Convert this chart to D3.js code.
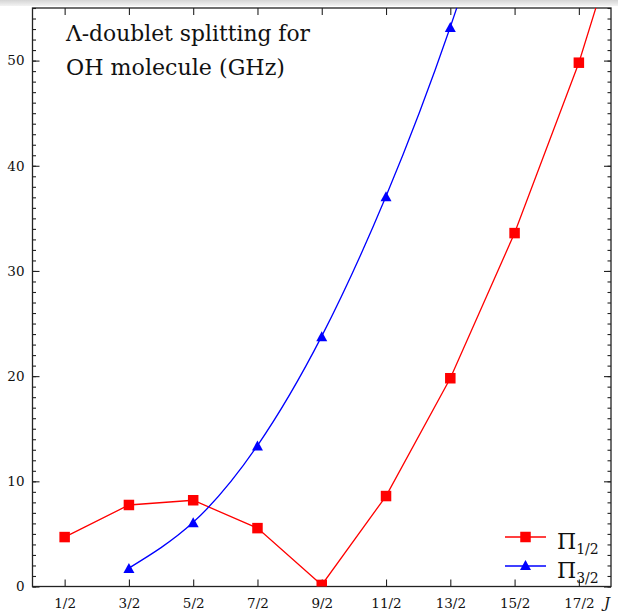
<!DOCTYPE html>
<html>
<head>
<meta charset="utf-8">
<script src="https://cdn.jsdelivr.net/npm/d3@7"></script>
<style>
  html, body { margin: 0; padding: 0; background: #fff; }
  svg text { font-family: "DejaVu Serif", serif; fill: #111; }
</style>
</head>
<body>
<div id="chart"></div>
<script>
// J values and their tick labels
const jTicks = [0.5, 1.5, 2.5, 3.5, 4.5, 5.5, 6.5, 7.5, 8.5];
const jTickLabels = ["1/2", "3/2", "5/2", "7/2", "9/2", "11/2", "13/2", "15/2", "17/2"];
const yTicks = [0, 10, 20, 30, 40, 50];

// Pi 1/2 splitting (GHz), last point runs off the top of the plot
const pi12J = [0.5, 1.5, 2.5, 3.5, 4.5, 5.5, 6.5, 7.5, 8.5, 9.5];
const pi12Vals = [4.7, 7.75, 8.2, 5.55, 0.15, 8.6, 19.8, 33.6, 49.8, 69.5];

// Pi 3/2 splitting (GHz)
const pi32J = [1.5, 2.5, 3.5, 4.5, 5.5, 6.5, 7.5];
const pi32Vals = [1.75, 6.1, 13.4, 23.8, 37.1, 53.2, 72.2];

const serif = "DejaVu Serif";
const width = 618, height = 612;
const plot = { left: 32.5, top: 8, right: 611, bottom: 586.5 };

const svg = d3.select("#chart").append("svg")
  .attr("width", width)
  .attr("height", height);

// grey strip at the very top (window chrome in the screenshot)
const defs = svg.append("defs");
const grad = defs.append("linearGradient").attr("id", "topgrad")
  .attr("x1", 0).attr("y1", 0).attr("x2", 0).attr("y2", 1);
grad.append("stop").attr("offset", "0%").attr("stop-color", "#d4d4d4");
grad.append("stop").attr("offset", "100%").attr("stop-color", "#f3f3f3");
svg.append("rect").attr("x", 0).attr("y", 0).attr("width", width).attr("height", 6)
  .attr("fill", "url(#topgrad)");

defs.append("clipPath").attr("id", "clip")
  .append("rect")
  .attr("x", plot.left).attr("y", plot.top)
  .attr("width", plot.right - plot.left).attr("height", plot.bottom - plot.top);

const x = d3.scaleLinear().domain([0, 9]).range([plot.left, plot.right]);
const y = d3.scaleLinear().domain([0, 55]).range([plot.bottom, plot.top]);

// axes with inward ticks
const minorY = d3.range(0, 56, 1);

function styleAxis(g) {
  g.select(".domain").remove();
  g.attr("font-family", serif);
  g.selectAll(".tick line").attr("stroke", "#222").attr("stroke-width", 1.1);
}

svg.append("g").attr("transform", `translate(${plot.left},0)`)
  .call(d3.axisLeft(y).tickValues(minorY).tickSize(-3.5).tickFormat(""))
  .call(styleAxis);
svg.append("g").attr("transform", `translate(${plot.right},0)`)
  .call(d3.axisRight(y).tickValues(minorY).tickSize(-3.5).tickFormat(""))
  .call(styleAxis);

const yLeft = svg.append("g").attr("transform", `translate(${plot.left},0)`)
  .call(d3.axisLeft(y).tickValues(yTicks).tickSize(-7))
  .call(styleAxis);
yLeft.selectAll(".tick text")
  .attr("x", -8)
  .attr("font-family", serif)
  .attr("font-size", 13.5)
  .attr("fill", "#111");

svg.append("g").attr("transform", `translate(${plot.right},0)`)
  .call(d3.axisRight(y).tickValues(yTicks).tickSize(-7).tickFormat(""))
  .call(styleAxis);

const xBottom = svg.append("g").attr("transform", `translate(0,${plot.bottom})`)
  .call(d3.axisBottom(x).tickValues(jTicks).tickSize(-7)
    .tickFormat((d, i) => jTickLabels[i]))
  .call(styleAxis);
xBottom.selectAll(".tick text")
  .attr("y", 21.5)
  .attr("dy", 0)
  .attr("font-family", serif)
  .attr("font-size", 13.5)
  .attr("fill", "#111");

svg.append("g").attr("transform", `translate(0,${plot.top})`)
  .call(d3.axisTop(x).tickValues(jTicks).tickSize(-7).tickFormat(""))
  .call(styleAxis);

// frame
svg.append("rect")
  .attr("x", plot.left).attr("y", plot.top)
  .attr("width", plot.right - plot.left).attr("height", plot.bottom - plot.top)
  .attr("fill", "none").attr("stroke", "#222").attr("stroke-width", 1.3);

// J axis label
svg.append("text").attr("x", 604).attr("y", 608)
  .attr("font-family", serif)
  .attr("font-style", "italic").attr("font-size", 15)
  .text("J");

// series
const area = svg.append("g").attr("clip-path", "url(#clip)");

const pi12Data = pi12J.map((j, i) => ({ j, v: pi12Vals[i] }));
const pi32Data = pi32J.map((j, i) => ({ j, v: pi32Vals[i] }));

const linear = d3.line().x(d => x(d.j)).y(d => y(d.v));
const smooth = d3.line().x(d => x(d.j)).y(d => y(d.v)).curve(d3.curveNatural);

area.append("path").datum(pi12Data)
  .attr("d", linear).attr("fill", "none")
  .attr("stroke", "#ff0000").attr("stroke-width", 1.3);

area.append("path").datum(pi32Data)
  .attr("d", smooth).attr("fill", "none")
  .attr("stroke", "#0000ff").attr("stroke-width", 1.3);

const sq = 10.5;
area.selectAll(".sq").data(pi12Data).enter().append("rect")
  .attr("class", "sq")
  .attr("x", d => x(d.j) - sq / 2).attr("y", d => y(d.v) - sq / 2)
  .attr("width", sq).attr("height", sq)
  .attr("fill", "#ff0000");

function triPath(cx, cy) {
  const w = 11, h = 10;
  return `M${cx},${cy - h / 2}L${cx + w / 2},${cy + h / 2}L${cx - w / 2},${cy + h / 2}Z`;
}
area.selectAll(".tri").data(pi32Data).enter().append("path")
  .attr("class", "tri")
  .attr("d", d => triPath(x(d.j), y(d.v)))
  .attr("fill", "#0000ff");

// title text
const title = svg.append("text").attr("x", 66).attr("y", 41)
  .attr("font-family", serif).attr("font-size", 22);
title.append("tspan").attr("x", 66).attr("y", 41)
  .attr("textLength", 244).attr("lengthAdjust", "spacingAndGlyphs")
  .text("Λ-doublet splitting for");
title.append("tspan").attr("x", 66).attr("y", 75)
  .attr("textLength", 219).attr("lengthAdjust", "spacingAndGlyphs")
  .text("OH molecule (GHz)");

// legend
const legendItems = [
  { color: "#ff0000", shape: "square", sub: "1/2", yPos: 537 },
  { color: "#0000ff", shape: "triangle", sub: "3/2", yPos: 566 }
];
const legend = svg.append("g");
legendItems.forEach(item => {
  legend.append("line")
    .attr("x1", 505).attr("x2", 546).attr("y1", item.yPos).attr("y2", item.yPos)
    .attr("stroke", item.color).attr("stroke-width", 1.3);
  if (item.shape === "square") {
    legend.append("rect")
      .attr("x", 525.5 - sq / 2).attr("y", item.yPos - sq / 2)
      .attr("width", sq).attr("height", sq).attr("fill", item.color);
  } else {
    legend.append("path").attr("d", triPath(525.5, item.yPos - 1)).attr("fill", item.color);
  }
  const t = legend.append("text").attr("x", 557).attr("y", item.yPos + 12)
    .attr("font-family", serif).attr("font-size", 22);
  t.append("tspan").text("Π");
  t.append("tspan").attr("dy", 5).attr("font-size", 14).text(item.sub);
});
</script>
</body>
</html>
